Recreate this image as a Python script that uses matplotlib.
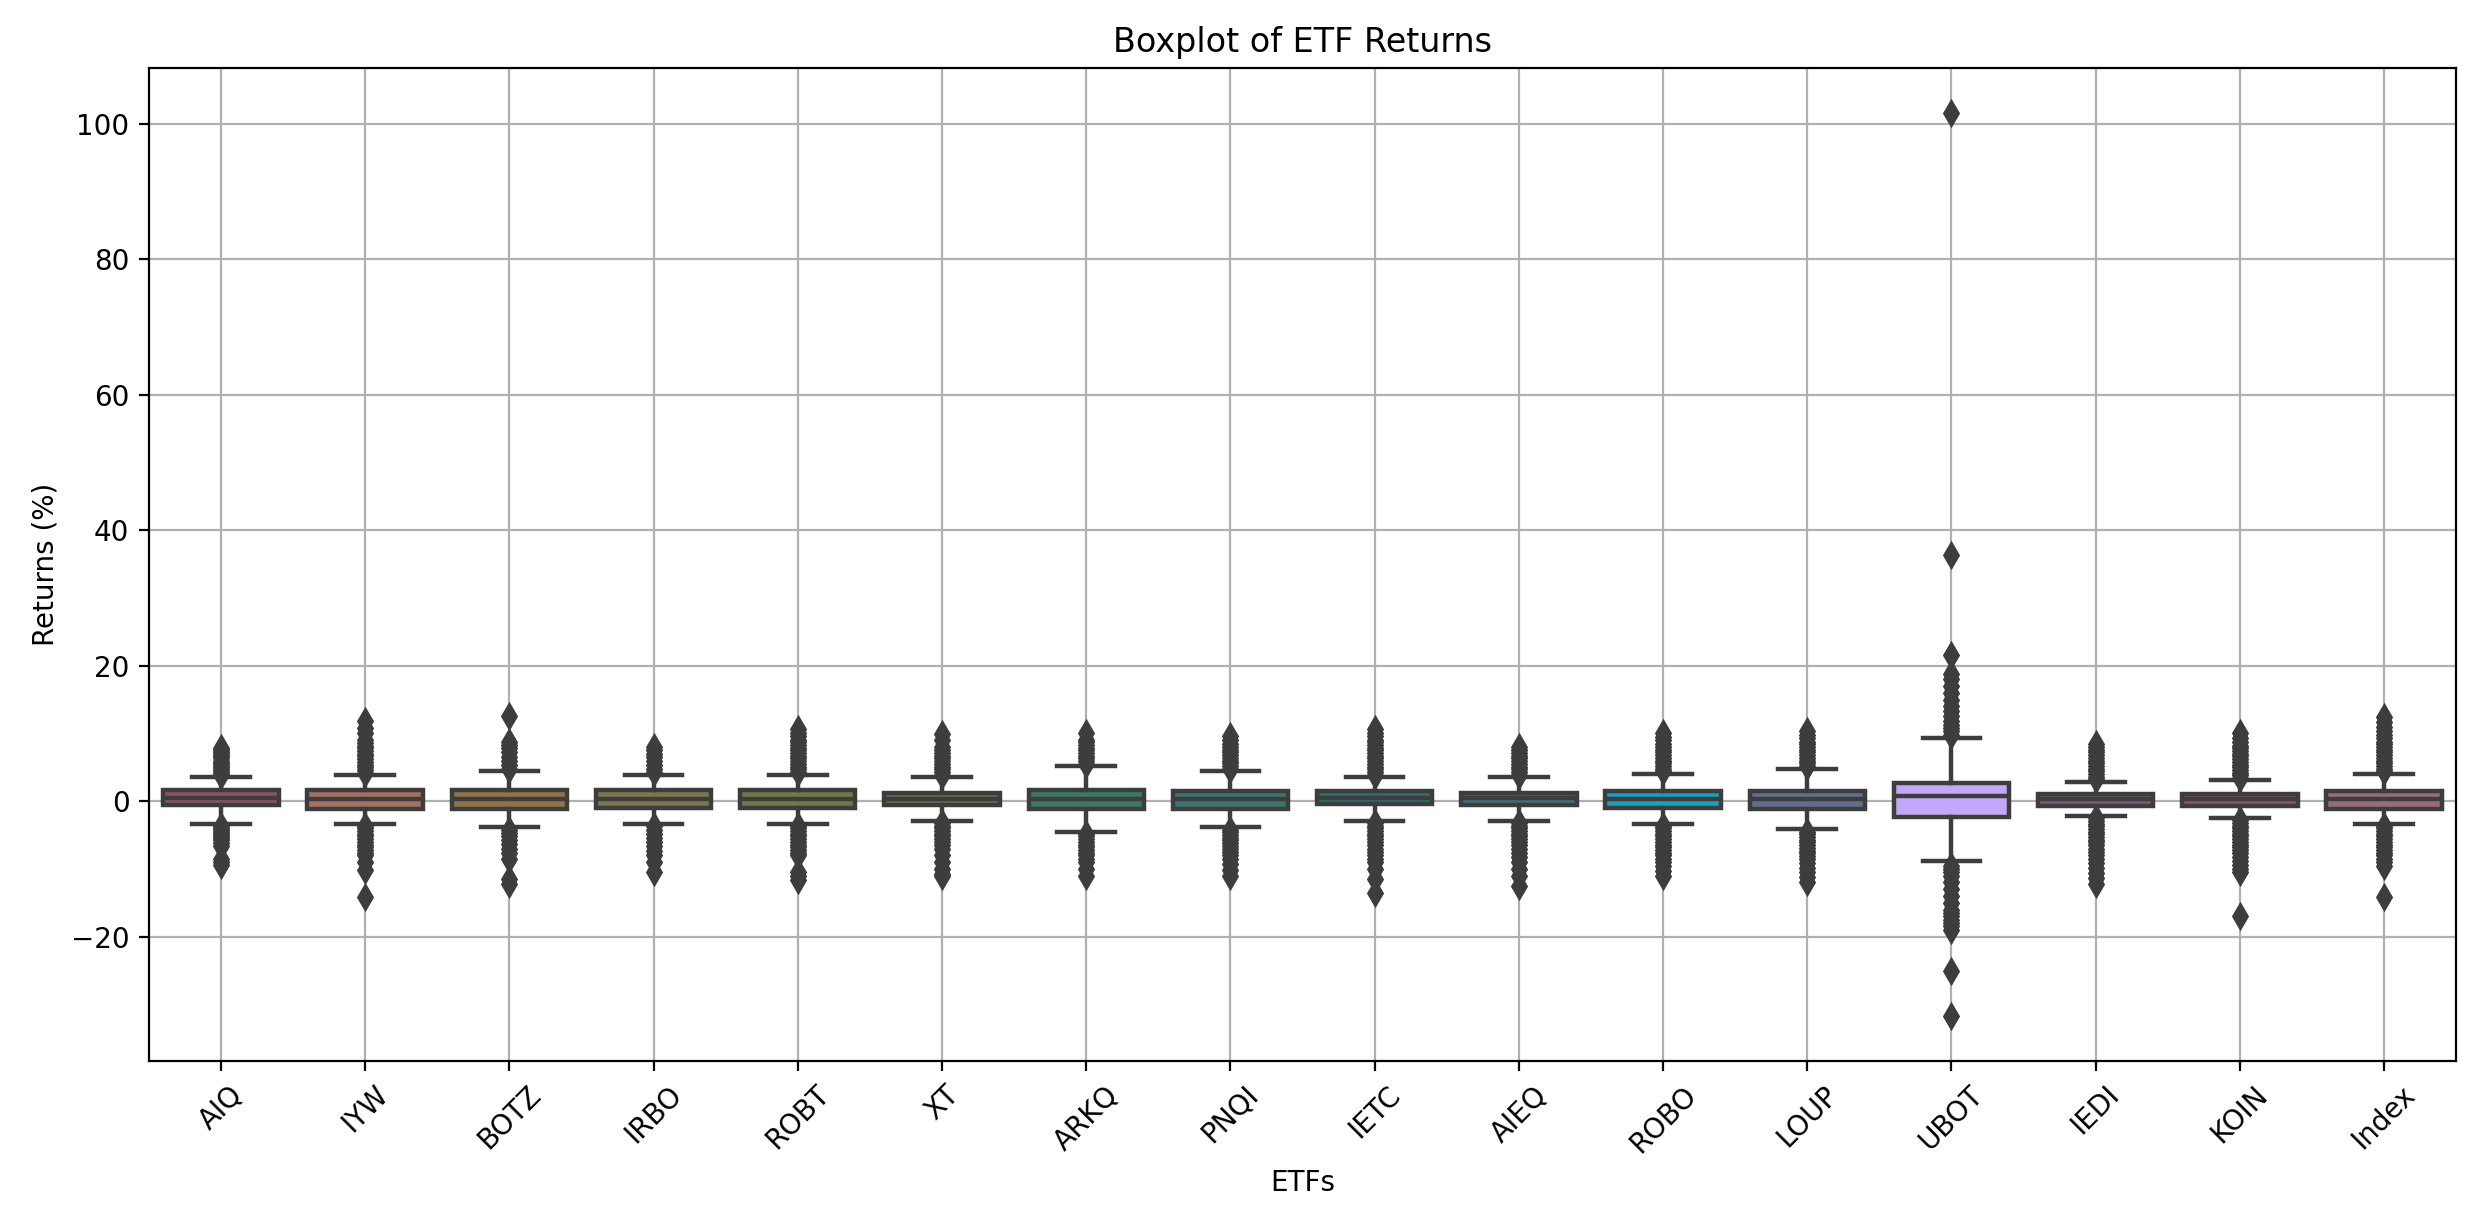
import matplotlib
matplotlib.use("Agg")
import matplotlib.pyplot as plt

etfs = ["AIQ", "IYW", "BOTZ", "IRBO", "ROBT", "XT", "ARKQ", "PNQI",
        "IETC", "AIEQ", "ROBO", "LOUP", "UBOT", "IEDI", "KOIN", "Index"]

q1 = [-0.6, -1.1, -1.1, -1.0, -1.0, -0.6, -1.1, -1.1,
      -0.4, -0.5, -1.0, -1.1, -2.3, -0.65, -0.65, -1.1]
med = [0.4, 0.3, 0.3, 0.3, 0.3, 0.3, 0.3, 0.3,
       0.4, 0.4, 0.35, 0.3, 0.7, 0.3, 0.3, 0.3]
q3 = [1.6, 1.7, 1.7, 1.7, 1.7, 1.2, 1.6, 1.5,
      1.5, 1.2, 1.5, 1.5, 2.7, 1.0, 1.0, 1.5]
whislo = [-3.3, -3.3, -3.8, -3.3, -3.3, -2.9, -4.5, -3.8,
          -2.9, -2.9, -3.3, -4.1, -8.8, -2.2, -2.5, -3.3]
whishi = [3.6, 3.9, 4.4, 3.9, 3.9, 3.6, 5.2, 4.4,
          3.6, 3.6, 4.05, 4.8, 9.3, 2.9, 3.1, 4.05]

fliers_hi = [
    [3.9, 4.2, 4.5, 4.8, 5.1, 5.4, 5.7, 6.0, 6.3, 6.6, 6.9, 7.2, 7.5, 7.9],
    [4.2, 4.6, 5.0, 5.4, 5.8, 6.2, 6.6, 7.0, 7.4, 7.8, 8.2, 8.6, 9.0, 10.0, 10.8, 11.9],
    [4.8, 5.3, 5.9, 6.5, 7.2, 7.8, 8.3, 8.8, 12.6],
    [4.3, 4.8, 5.4, 6.0, 6.5, 7.0, 7.5, 8.0],
    [4.3, 4.7, 5.1, 5.5, 5.9, 6.3, 6.7, 7.1, 7.5, 7.9, 8.3, 8.7, 9.1, 9.6, 10.1, 10.6],
    [3.9, 4.3, 4.7, 5.1, 5.5, 5.9, 6.3, 6.7, 7.1, 7.5, 8.0, 9.0, 9.9],
    [5.5, 5.9, 6.3, 6.7, 7.1, 7.5, 7.9, 8.3, 8.7, 9.1, 10.1],
    [4.8, 5.2, 5.6, 6.0, 6.4, 6.8, 7.2, 7.6, 8.0, 8.5, 9.0, 9.6],
    [3.9, 4.3, 4.7, 5.1, 5.5, 5.9, 6.3, 6.7, 7.1, 7.5, 7.9, 8.3, 8.7, 9.1, 9.6, 10.1, 10.6],
    [3.9, 4.3, 4.7, 5.1, 5.5, 5.9, 6.3, 6.7, 7.1, 7.6, 8.0],
    [4.4, 4.8, 5.2, 5.6, 6.0, 6.4, 6.8, 7.2, 7.6, 8.0, 8.5, 9.0, 9.5, 10.1],
    [5.2, 5.6, 6.0, 6.4, 6.8, 7.2, 7.6, 8.0, 8.4, 8.8, 9.3, 9.8, 10.3],
    [9.8, 10.3, 10.8, 11.3, 11.8, 12.5, 13.3, 14.0, 15.0, 16.0, 17.0, 18.0, 18.7, 21.6, 36.4, 101.5],
    [3.2, 3.6, 4.0, 4.4, 4.8, 5.2, 5.6, 6.0, 6.4, 6.8, 7.2, 7.6, 8.0, 8.5],
    [3.4, 3.8, 4.2, 4.6, 5.0, 5.4, 5.8, 6.2, 6.6, 7.0, 7.4, 7.8, 8.2, 8.7, 9.3, 10.1],
    [4.4, 4.8, 5.2, 5.6, 6.0, 6.4, 6.8, 7.2, 7.6, 8.0, 8.4, 8.8, 9.3, 9.8, 10.4, 11.0, 11.7, 12.4],
]

fliers_lo = [
    [-3.6, -3.9, -4.2, -4.5, -4.8, -5.1, -5.4, -5.8, -6.2, -6.6, -8.6, -9.0, -9.4],
    [-3.6, -4.0, -4.4, -4.8, -5.2, -5.6, -6.0, -6.4, -6.8, -7.2, -7.6, -8.0, -9.0, -10.2, -14.1],
    [-4.2, -4.7, -5.2, -5.7, -6.3, -7.0, -7.6, -8.6, -11.5, -12.3],
    [-3.6, -4.2, -4.8, -5.4, -6.0, -6.6, -7.3, -8.0, -9.0, -10.4],
    [-3.6, -4.0, -4.4, -4.8, -5.2, -5.6, -6.0, -6.4, -6.8, -7.2, -7.6, -8.0, -10.5, -11.0, -11.6],
    [-3.2, -3.6, -4.0, -4.4, -4.8, -5.2, -5.6, -6.0, -6.5, -7.0, -8.0, -9.0, -10.0, -10.7, -11.0],
    [-4.8, -5.2, -5.6, -6.0, -6.4, -6.8, -7.2, -7.6, -8.0, -8.5, -9.0, -10.0, -11.0],
    [-4.2, -4.6, -5.0, -5.4, -5.8, -6.2, -6.6, -7.0, -7.5, -8.0, -8.6, -9.3, -10.2, -11.0],
    [-3.2, -3.6, -4.0, -4.4, -4.8, -5.2, -5.6, -6.0, -6.5, -7.0, -7.5, -8.0, -8.5, -9.0, -10.0, -11.5, -13.5],
    [-3.2, -3.6, -4.0, -4.4, -4.8, -5.2, -5.6, -6.0, -6.5, -7.0, -7.6, -8.2, -9.0, -10.0, -11.0, -12.5],
    [-3.6, -4.0, -4.4, -4.8, -5.2, -5.6, -6.0, -6.4, -6.8, -7.2, -7.6, -8.0, -8.5, -9.0, -9.6, -10.3, -11.1],
    [-4.5, -4.9, -5.3, -5.7, -6.1, -6.5, -6.9, -7.3, -7.7, -8.1, -8.6, -9.2, -9.8, -10.5, -11.2, -12.0],
    [-9.5, -10.0, -10.5, -11.0, -12.0, -13.0, -14.0, -15.0, -16.0, -16.5, -17.0, -17.5, -18.0, -18.5, -19.0, -25.1, -31.7],
    [-2.5, -2.9, -3.3, -3.7, -4.1, -4.5, -4.9, -5.3, -5.7, -6.1, -6.5, -7.0, -7.5, -8.0, -8.6, -9.2, -9.9, -10.6, -11.4, -12.2],
    [-2.8, -3.2, -3.6, -4.0, -4.4, -4.8, -5.2, -5.6, -6.0, -6.4, -6.8, -7.2, -7.7, -8.2, -8.8, -9.4, -10.0, -10.5, -17.0],
    [-3.6, -4.0, -4.4, -4.8, -5.2, -5.6, -6.0, -6.4, -6.8, -7.2, -7.6, -8.0, -8.5, -9.0, -9.5, -14.1],
]

box_colors = ["#8a5563", "#a5705f", "#8f7448", "#7b7850", "#6e7a48", "#6b7048",
              "#3a7a62", "#3a7670", "#2f6e6e", "#4a6a78", "#1aa0bd", "#60708a",
              "#c3a8fa", "#7a5a78", "#8a5570", "#9a6a7d"]

line_gray = "#3d3d3d"

stats = []
for i, name in enumerate(etfs):
    stats.append(dict(label=name, q1=q1[i], med=med[i], q3=q3[i],
                      whislo=whislo[i], whishi=whishi[i],
                      fliers=fliers_hi[i] + fliers_lo[i]))

fig = plt.figure(figsize=(12.405, 6.105), dpi=200)
ax = fig.add_axes([0.06, 0.131, 0.93, 0.813])

bp = ax.bxp(stats, positions=list(range(len(etfs))), widths=0.8,
            patch_artist=True, showfliers=True,
            boxprops=dict(edgecolor=line_gray, linewidth=1.6),
            whiskerprops=dict(color=line_gray, linewidth=1.6),
            capprops=dict(color=line_gray, linewidth=1.6),
            medianprops=dict(color=line_gray, linewidth=1.6),
            flierprops=dict(marker="d", markersize=6, markerfacecolor=line_gray,
                            markeredgecolor=line_gray, linestyle="none"))
for patch, c in zip(bp["boxes"], box_colors):
    patch.set_facecolor(c)

ax.set_xlim(-0.5, len(etfs) - 0.5)
ax.set_xticks(range(len(etfs)))
ax.set_xticklabels(etfs, rotation=45)
ax.set_axisbelow(True)
ax.grid(True)
ax.set_title("Boxplot of ETF Returns", fontsize=12)
ax.set_xlabel("ETFs")
ax.set_ylabel("Returns (%)")

fig.savefig("out.png", dpi=200)
